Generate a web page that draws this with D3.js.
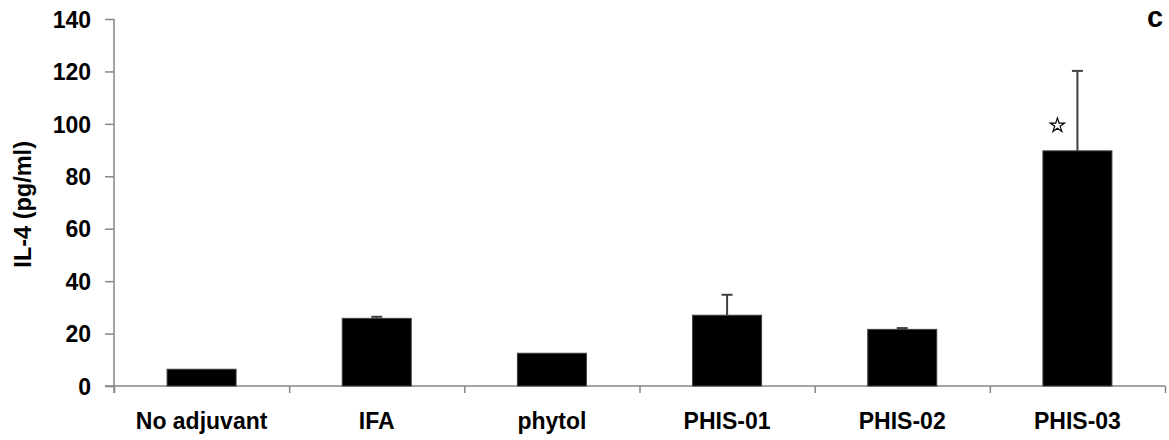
<html lang="en">
<head>
  <meta charset="UTF-8">
  <title>IL-4</title>
  <script src="https://d3js.org/d3.v7.min.js"></script>
</head>
<style>
  body { margin: 0; background: white; }
  text { font-family: "Liberation Sans", Arial, sans-serif; font-weight: bold; fill: #000; }
  .axis path, .axis line { stroke: #868686; stroke-width: 1.5; }
</style>
<body>
  <svg class="graph" width="1169" height="440"></svg>
  <script>
    // data
    const categories = ["No adjuvant", "IFA", "phytol", "PHIS-01", "PHIS-02", "PHIS-03"];
    const means = [6.4, 25.8, 12.5, 27, 21.6, 89.7];
    const errors = [0, 0.6, 0, 7.8, 0.5, 30.5];
    const significant = [false, false, false, false, false, true];
    const yTicks = [0, 20, 40, 60, 80, 100, 120, 140];

    const svg = d3.select('svg.graph');
    const margins = { top: 19, right: 4, bottom: 54, left: 114 };
    const chartWidth = 1165 - margins.left;
    const chartHeight = 386 - margins.top;

    const x = d3.scaleBand().domain(categories).range([0, chartWidth]).padding(0);
    const xEdges = d3.scaleLinear().domain([0, categories.length]).range([0, chartWidth]);
    const y = d3.scaleLinear().domain([0, 140]).range([chartHeight, 0]);
    const barW = x.bandwidth() * 0.394;

    const g = svg.append('g').attr('transform', `translate(${margins.left},${margins.top})`);

    // y axis
    const yAxis = g.append('g').attr('class', 'axis')
      .call(d3.axisLeft(y).tickValues(yTicks).tickSize(9).tickSizeOuter(0).tickPadding(14));
    yAxis.selectAll('text').style('font-size', '23px').attr('dy', '0.36em');
    yAxis.select('.domain').attr('d', `M0,0V${chartHeight + 7}`);

    // x axis: boundary ticks
    const xAxis = g.append('g').attr('class', 'axis')
      .attr('transform', `translate(0,${chartHeight})`)
      .call(d3.axisBottom(xEdges).ticks(categories.length).tickSize(7).tickSizeOuter(0).tickFormat(''));
    xAxis.select('.domain').attr('d', `M-9,0H${chartWidth}`);

    // category labels
    const xLabels = g.append('g')
      .attr('transform', `translate(0,${chartHeight})`)
      .call(d3.axisBottom(x).tickSize(0).tickPadding(27));
    xLabels.select('.domain').remove();
    xLabels.selectAll('text').style('font-size', '23px');

    // bars
    g.selectAll('rect.bar').data(categories).join('rect')
      .attr('class', 'bar')
      .attr('x', (d) => x(d) + (x.bandwidth() - barW) / 2)
      .attr('y', (d, i) => y(means[i]))
      .attr('width', barW)
      .attr('height', (d, i) => y(0) - y(means[i]))
      .attr('fill', '#000')
      .attr('stroke', '#404040')
      .attr('stroke-width', 1);

    // error bars (upper only)
    categories.forEach((c, i) => {
      if (errors[i] <= 0) return;
      const cx = x(c) + x.bandwidth() / 2;
      g.append('line')
        .attr('x1', cx).attr('x2', cx)
        .attr('y1', y(means[i])).attr('y2', y(means[i] + errors[i]))
        .attr('stroke', '#404040').attr('stroke-width', 2);
      g.append('line')
        .attr('x1', cx - 5.5).attr('x2', cx + 5.5)
        .attr('y1', y(means[i] + errors[i])).attr('y2', y(means[i] + errors[i]))
        .attr('stroke', '#404040').attr('stroke-width', 2);
    });

    // significance stars
    categories.forEach((c, i) => {
      if (!significant[i]) return;
      const cx = x(c) + x.bandwidth() / 2 - 20;
      g.append('path')
        .attr('d', d3.symbol().type(d3.symbolStar).size(64)())
        .attr('transform', `translate(${cx},${y(means[i] + 9.7)})`)
        .attr('fill', '#fff')
        .attr('stroke', '#000')
        .attr('stroke-width', 1.2);
    });

    // y label
    svg.append('text')
      .attr('transform', `translate(31,${margins.top + y(69.3)}) rotate(-90)`)
      .attr('text-anchor', 'middle')
      .style('font-size', '23.5px')
      .text('IL-4 (pg/ml)');

    // panel letter
    svg.append('text')
      .attr('x', 1155).attr('y', 27)
      .attr('text-anchor', 'middle')
      .style('font-size', '29px')
      .text('c');
  </script>
</body>
</html>
